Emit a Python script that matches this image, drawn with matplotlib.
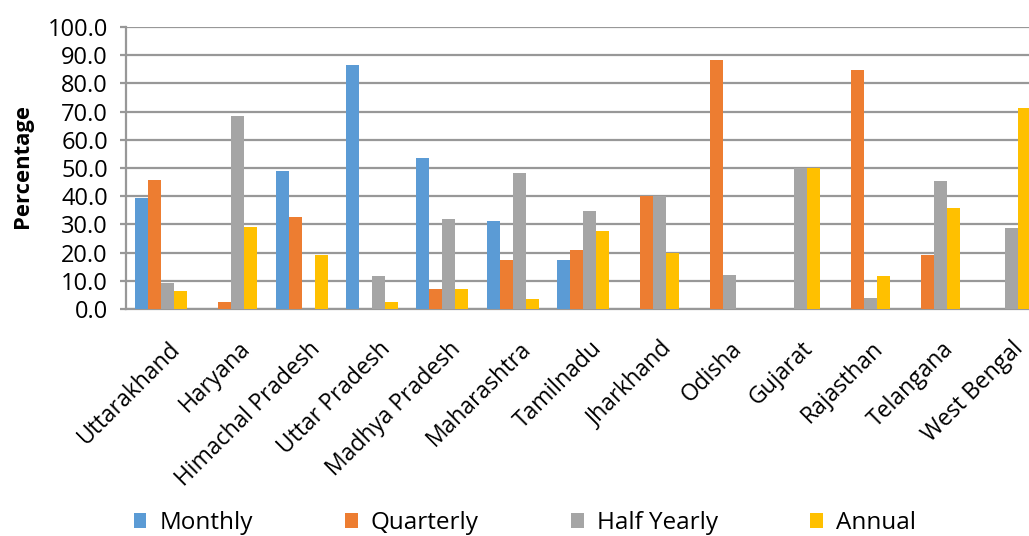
import numpy as np
import matplotlib
matplotlib.use("Agg")
import matplotlib.pyplot as plt
import matplotlib.transforms as mtransforms

plt.rcParams['font.family'] = ['Open Sans', 'DejaVu Sans']

# data
states = ['Uttarakhand', 'Haryana', 'Himachal Pradesh', 'Uttar Pradesh', 'Madhya Pradesh',
          'Maharashtra', 'Tamilnadu', 'Jharkhand', 'Odisha', 'Gujarat', 'Rajasthan',
          'Telangana', 'West Bengal']
monthly = [39.4, 0.0, 48.8, 86.4, 53.5, 31.1, 17.4, 0.0, 0.0, 0.0, 0.0, 0.0, 0.0]
quarterly = [45.6, 2.6, 32.5, 0.0, 7.1, 17.4, 20.9, 40.0, 88.2, 0.0, 84.7, 19.1, 0.0]
half_yearly = [9.2, 68.5, 0.0, 11.6, 32.1, 48.3, 34.7, 40.0, 11.9, 50.0, 3.9, 45.3, 28.7]
annual = [6.3, 29.0, 19.0, 2.5, 7.1, 3.5, 27.6, 20.0, 0.0, 50.0, 11.7, 35.8, 71.4]

series = [('Monthly', monthly, '#5B9BD5'),
          ('Quarterly', quarterly, '#ED7D31'),
          ('Half Yearly', half_yearly, '#A5A5A5'),
          ('Annual', annual, '#FFC000')]

grid_col = '#989898'

fig = plt.figure(figsize=(10.29, 5.36), dpi=100)
# the original chart is cut off on the right, so the axes run past the figure edge
ax = fig.add_axes([0.1224, 0.4235, 0.888, 0.526])

x = np.arange(len(states))
w = 0.185
for i, (name, vals, col) in enumerate(series):
    ax.bar(x + (i - 1.5) * w, vals, w, color=col, label=name, zorder=3)

ax.set_xlim(-0.5, len(states) - 0.5)
ax.set_ylim(0, 100)
ax.set_yticks(np.arange(0, 101, 10))
ax.set_yticklabels([f'{v:.1f}' for v in np.arange(0, 101, 10)], fontsize=17)
ax.yaxis.grid(True, color=grid_col, linewidth=1.6, zorder=0)
ax.set_axisbelow(True)
ax.tick_params(axis='y', length=4, width=1.6, color=grid_col, pad=9)
ax.tick_params(axis='x', length=0, pad=20)

ax.set_xticks(x)
ax.set_xticklabels(states, rotation=45, ha='right', rotation_mode='anchor', fontsize=16.5)
shift = mtransforms.ScaledTranslation(0.07, 0, fig.dpi_scale_trans)
for lab in ax.get_xticklabels():
    lab.set_transform(lab.get_transform() + shift)

for s in ['top', 'right']:
    ax.spines[s].set_visible(False)
for s in ['left', 'bottom']:
    ax.spines[s].set_color(grid_col)
    ax.spines[s].set_linewidth(1.6)

fig.text(0.022, 0.69, 'Percentage', rotation=90, ha='center', va='center',
         fontsize=15.8, fontweight='bold')

fig.legend(loc='center', ncol=4, frameon=False, fontsize=17.5,
           bbox_to_anchor=(0.510, 0.0243), handlelength=0.53, handleheight=0.53,
           columnspacing=3.8, handletextpad=0.53)

fig.savefig('out.png', dpi=100)
